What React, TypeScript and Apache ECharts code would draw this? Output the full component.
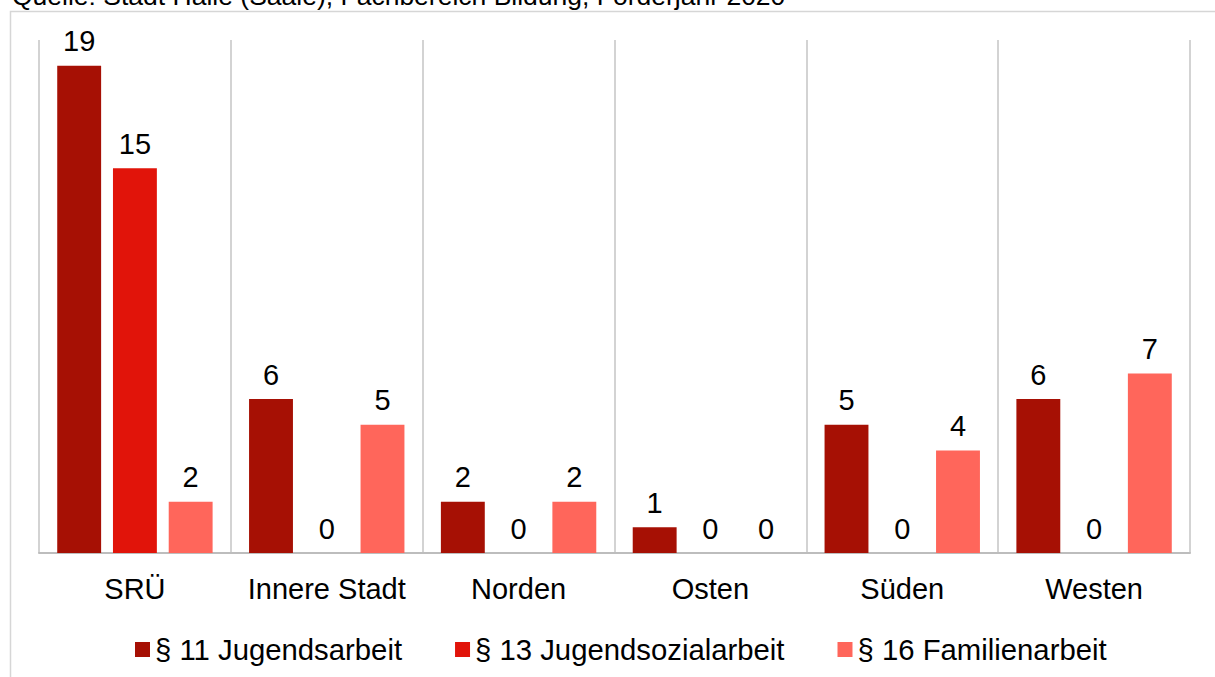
import React, { useEffect, useRef } from "react";
import * as echarts from "echarts";

// Bezirke (Sozialräume) der Stadt Halle
const categories = ["SRÜ", "Innere Stadt", "Norden", "Osten", "Süden", "Westen"];

// Anzahl geförderter Angebote je Paragraph
const seriesNames = ["§ 11 Jugendsarbeit", "§ 13 Jugendsozialarbeit", "§ 16 Familienarbeit"];
const jugendarbeit = [19, 6, 2, 1, 5, 6];
const jugendsozialarbeit = [15, 0, 0, 0, 0, 0];
const familienarbeit = [2, 5, 2, 0, 4, 7];

const sourceNote = "Quelle: Stadt Halle (Saale), Fachbereich Bildung, Förderjahr 2020";

const colors = ["#A61004", "#E1140A", "#FF665B"];
const FONT = "'Liberation Sans', Arial, sans-serif";
const FS = 29;

export default function App() {
  const ref = useRef<HTMLDivElement>(null);

  useEffect(() => {
    if (!ref.current) return;
    const chart = echarts.init(ref.current, undefined, { renderer: "svg" });
    const values = [jugendarbeit, jugendsozialarbeit, familienarbeit];

    chart.setOption({
      animation: false,
      backgroundColor: "#ffffff",
      textStyle: { fontFamily: FONT },
      graphic: [
        {
          type: "rect",
          silent: true,
          shape: { x: 10.5, y: 11.5, width: 1230, height: 700 },
          style: { fill: "none", stroke: "#d6d6d6", lineWidth: 1.5 },
        },
        {
          type: "text",
          silent: true,
          x: 12,
          y: 9,
          style: {
            text: sourceNote,
            font: `26.5px ${FONT}`,
            fill: "#000000",
            verticalAlign: "bottom",
            align: "left",
          },
        },
      ],
      grid: { left: 39, right: 25, top: 40, bottom: 124, containLabel: false },
      legend: {
        data: seriesNames,
        left: 130,
        top: 630,
        itemWidth: 15,
        itemHeight: 15,
        itemGap: 53,
        icon: "rect",
        textStyle: { fontSize: 29.3, color: "#000", fontFamily: FONT },
      },
      xAxis: {
        type: "category",
        data: categories,
        axisLine: { show: true, lineStyle: { color: "#bdbdbd", width: 2 } },
        axisTick: { show: false, interval: 0 },
        splitLine: { show: true, interval: 0, lineStyle: { color: "#c4c4c4", width: 1.5 } },
        axisLabel: { interval: 0, fontSize: FS, color: "#000", margin: 21, fontFamily: FONT },
      },
      yAxis: {
        type: "value",
        min: 0,
        max: 20,
        show: false,
        splitLine: { show: false },
      },
      series: seriesNames.map((name, i) => ({
        name,
        type: "bar",
        data: values[i],
        barGap: "27%",
        barCategoryGap: "19%",
        itemStyle: { color: colors[i] },
        label: {
          show: true,
          position: "top",
          distance: 10,
          fontSize: FS,
          color: "#000",
          fontFamily: FONT,
        },
      })),
    });

    return () => chart.dispose();
  }, []);

  return (
    <div
      ref={ref}
      style={{ position: "fixed", left: 0, top: 0, width: 1215, height: 677 }}
    />
  );
}
